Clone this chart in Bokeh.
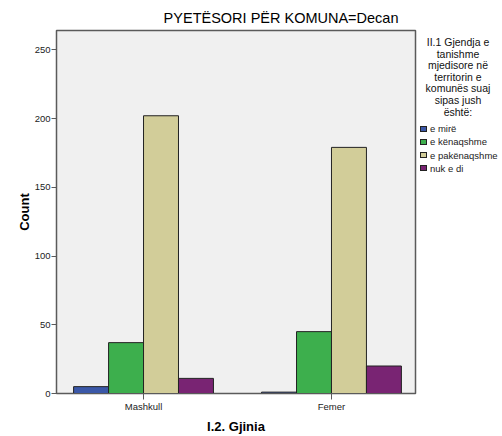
from bokeh.plotting import figure
from bokeh.layouts import row
from bokeh.models import ColumnDataSource, FixedTicker, Range1d, Div
from bokeh.embed import file_html
from bokeh.resources import INLINE

categories = ["Mashkull", "Femer"]
series_names = ["e mirë", "e kënaqshme", "e pakënaqshme", "nuk e di"]
e_mire = [5, 1]
e_kenaqshme = [37, 45]
e_pakenaqshme = [202, 179]
nuk_e_di = [11, 20]
y_ticks = [0, 50, 100, 150, 200, 250]
legend_title_lines = ["II.1 Gjendja e", "tanishme", "mjedisore në", "territorin e",
                      "komunës suaj", "sipas jush", "është:"]
chart_title = "PYETËSORI PËR KOMUNA=Decan"
colors = ["#3b58a8", "#3daf4d", "#d2cd99", "#792473"]

FONT = "Liberation Sans"

# ---------------- main chart ----------------
p = figure(width=420, height=436, output_backend="svg", toolbar_location=None,
           x_range=Range1d(0.537, 2.447), y_range=Range1d(0, 264))
p.min_border_left = 56
p.min_border_right = 5
p.min_border_top = 30
p.min_border_bottom = 40
p.background_fill_color = "#f0f0f0"
p.border_fill_color = "white"
p.outline_line_color = "#5a5a5a"
p.outline_line_width = 1.5
p.grid.visible = False

p.title.text = chart_title
p.title.align = "right"
p.title.offset = 17
p.title.text_font = FONT
p.title.text_font_size = "14.5px"
p.title.text_font_style = "normal"
p.title.text_color = "black"

xpos = list(range(1, len(categories) + 1))
w = 0.186
offsets = [-1.5 * w, -0.5 * w, 0.5 * w, 1.5 * w]
all_series = [e_mire, e_kenaqshme, e_pakenaqshme, nuk_e_di]
for vals, off, col in zip(all_series, offsets, colors):
    src = ColumnDataSource(dict(x=[x + off for x in xpos], top=vals))
    p.vbar(x="x", top="top", width=w, bottom=0, source=src,
           fill_color=col, line_color="#222222", line_width=1)

p.xaxis.ticker = FixedTicker(ticks=xpos)
p.xaxis.major_label_overrides = {x: c for x, c in zip(xpos, categories)}
p.xaxis.minor_tick_line_color = None
p.xaxis.major_tick_in = 0
p.xaxis.major_tick_out = 6
p.xaxis.axis_label = "I.2. Gjinia"
p.yaxis.ticker = FixedTicker(ticks=y_ticks)
p.yaxis.minor_tick_line_color = None
p.yaxis.major_tick_in = 0
p.yaxis.major_tick_out = 5
p.yaxis.axis_label = "Count"
for ax in (p.xaxis, p.yaxis):
    ax.axis_line_color = "#5a5a5a"
    ax.major_tick_line_color = "#5a5a5a"
    ax.major_label_text_font = FONT
    ax.major_label_text_font_size = "9.5px"
    ax.major_label_text_color = "#222222"
    ax.axis_label_text_font = FONT
    ax.axis_label_text_font_size = "13px"
    ax.axis_label_text_font_style = "bold"
    ax.axis_label_text_color = "black"
p.xaxis.major_label_standoff = 1
p.xaxis.axis_label_standoff = 4
p.yaxis.major_label_standoff = 1
p.yaxis.axis_label_standoff = 0

# ---------------- legend panel (HTML) ----------------
title_html = "<br>".join(legend_title_lines)
items_html = "".join(
    f'<div style="height:13.2px;line-height:13.2px;white-space:nowrap;">'
    f'<span style="display:inline-block;width:7px;height:6px;background:{c};'
    f'border:1px solid #222;vertical-align:middle;margin-right:3px;"></span>'
    f'<span style="vertical-align:middle;">{n}</span></div>'
    for n, c in zip(series_names, colors))
html = (
    f'<div style="font-family:\'{FONT}\';color:#111;width:82px;">'
    f'<div style="margin-top:37px;width:76px;text-align:center;font-size:10.5px;'
    f'line-height:11.6px;">{title_html}</div>'
    f'<div style="margin-top:3px;font-size:9.5px;color:#222;">{items_html}</div>'
    f'</div>'
)
legend_div = Div(text=html, width=82, height=436, margin=(0, 0, 0, 0))

layout = row(p, legend_div, spacing=0)
open("out.html", "w").write(file_html(layout, INLINE))
